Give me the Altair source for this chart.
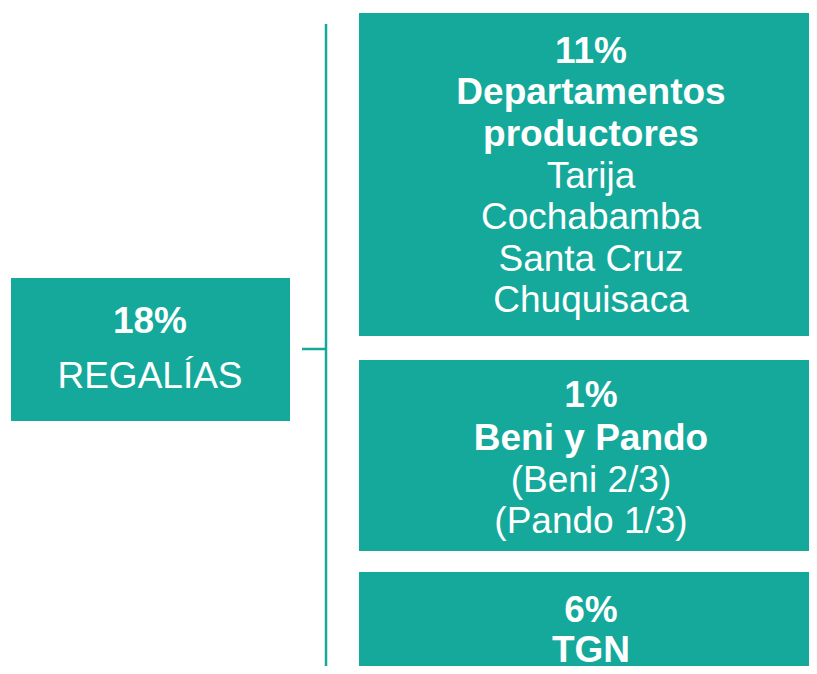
import altair as alt
import pandas as pd

TEAL = "#14a99b"

# Boxes of the diagram (diagram units = reference pixels)
box_name = ["regalias", "productores", "beni_pando", "tgn"]
box_x0 = [11, 359, 359, 359]
box_x1 = [290, 817, 817, 817]
box_y0 = [278, 13, 360, 572]
box_y1 = [421, 336, 551, 700]

# Connector lines
line_x0 = [326, 302]
line_x1 = [326, 326]
line_y0 = [24, 349]
line_y1 = [700, 349]

# Text lines
txt_label = [
    "18%", "REGALÍAS",
    "11%", "Departamentos", "productores", "Tarija", "Cochabamba", "Santa Cruz", "Chuquisaca",
    "1%", "Beni y Pando", "(Beni 2/3)", "(Pando 1/3)",
    "6%", "TGN",
]
txt_bold = [
    True, False,
    True, True, True, False, False, False, False,
    True, True, False, False,
    True, True,
]
txt_x = [150, 150,
         591, 591, 591, 591, 591, 591, 591,
         591, 591, 591, 591,
         591, 591]
txt_y = [333, 388,
         63, 104, 146, 188, 229, 271, 312,
         407, 450, 492, 533,
         622, 662]

boxes = pd.DataFrame({"name": box_name, "x0": box_x0, "x1": box_x1, "y0": box_y0, "y1": box_y1})
lines = pd.DataFrame({"x0": line_x0, "x1": line_x1, "y0": line_y0, "y1": line_y1})
texts = pd.DataFrame({"label": txt_label, "bold": txt_bold, "x": txt_x, "y": txt_y})

xs = alt.Scale(domain=[8, 809], nice=False, zero=False)
ys = alt.Scale(domain=[8, 666], nice=False, zero=False, reverse=True)

rects = alt.Chart(boxes).mark_rect(color=TEAL).encode(
    x=alt.X("x0:Q", scale=xs, axis=None),
    x2="x1:Q",
    y=alt.Y("y0:Q", scale=ys, axis=None),
    y2="y1:Q",
)

rules = alt.Chart(lines).mark_rule(color=TEAL, strokeWidth=2.5).encode(
    x=alt.X("x0:Q", scale=xs, axis=None),
    x2="x1:Q",
    y=alt.Y("y0:Q", scale=ys, axis=None),
    y2="y1:Q",
)

def text_layer(bold):
    return alt.Chart(texts).transform_filter(
        alt.datum.bold == bold
    ).mark_text(
        color="white",
        font="Liberation Sans",
        fontSize=37,
        fontWeight="bold" if bold else "normal",
        align="center",
        baseline="alphabetic",
    ).encode(
        x=alt.X("x:Q", scale=xs, axis=None),
        y=alt.Y("y:Q", scale=ys, axis=None),
        text="label:N",
    )

chart = alt.layer(rects, rules, text_layer(True), text_layer(False)).properties(
    width=801,
    height=658,
    padding=0,
    autosize=alt.AutoSizeParams(type="none"),
    background="white",
).configure_view(stroke=None)

chart.save("out.html", embed_options={"renderer": "svg", "actions": False})
